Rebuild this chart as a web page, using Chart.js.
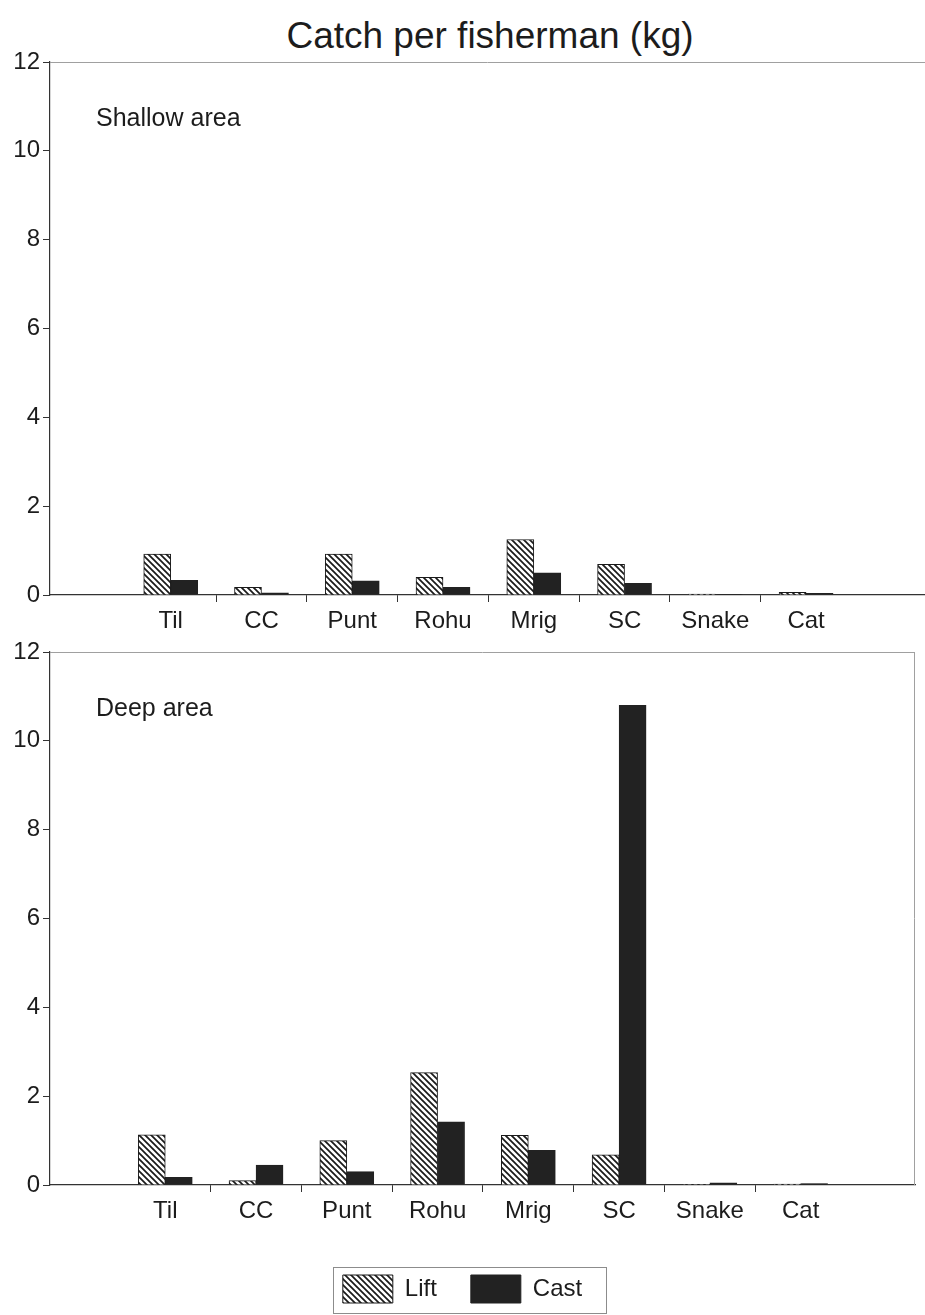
<!DOCTYPE html>
<html>
<head>
<meta charset="utf-8">
<script src="https://cdn.jsdelivr.net/npm/chart.js@4.4.0/dist/chart.umd.min.js"></script>
<style>
  html, body { margin: 0; padding: 0; background: #fff; }
  body { width: 925px; height: 1315px; position: relative; overflow: hidden;
         font-family: "Liberation Sans", Arial, sans-serif; color: #1c1c1c; }
  #title { position: absolute; left: 0; width: 980px; top: 14px; text-align: center;
           font-size: 37px; line-height: 44px; }
  .panel { position: absolute; left: 0; width: 925px; }
  #shallowWrap { top: 40px; height: 600px; }
  #deepWrap { top: 630px; height: 685px; }
</style>
</head>
<body>
<div id="title">Catch per fisherman (kg)</div>
<div class="panel" id="shallowWrap"><canvas id="shallow" width="925" height="600"></canvas></div>
<div class="panel" id="deepWrap"><canvas id="deep" width="925" height="685"></canvas></div>
<script>
// Species groups and catch per fisherman (kg) for each gear type
const categories = ['Til', 'CC', 'Punt', 'Rohu', 'Mrig', 'SC', 'Snake', 'Cat'];
const shallowLift = [0.92, 0.17, 0.92, 0.40, 1.25, 0.69, 0.02, 0.06];
const shallowCast = [0.33, 0.05, 0.32, 0.17, 0.50, 0.26, 0.01, 0.04];
const deepLift    = [1.13, 0.10, 1.00, 2.53, 1.12, 0.68, 0.01, 0.02];
const deepCast    = [0.17, 0.45, 0.30, 1.42, 0.78, 10.8, 0.05, 0.03];
const yTickValues = [0, 2, 4, 6, 8, 10, 12];
const seriesNames = ['Lift', 'Cast'];

const FONT = '"Liberation Sans", Arial, sans-serif';
const INK = '#1c1c1c';

// Diagonal hatching used for the Lift bars
function hatch(ctx) {
  const s = 6;
  const c = document.createElement('canvas');
  c.width = c.height = s;
  const g = c.getContext('2d');
  g.fillStyle = '#fff';
  g.fillRect(0, 0, s, s);
  g.strokeStyle = '#1a1a1a';
  g.lineWidth = 1.7;
  g.beginPath();
  g.moveTo(-1, -1); g.lineTo(s + 1, s + 1);
  g.moveTo(-1, s - 1); g.lineTo(1, s + 1);
  g.moveTo(s - 1, -1); g.lineTo(s + 1, 1);
  g.stroke();
  return ctx.createPattern(c, 'repeat');
}

// Light frame line along the top (and optionally right) of the plot area
const framePlugin = {
  id: 'frame',
  beforeDatasetsDraw(chart, args, opts) {
    const { ctx, chartArea: a } = chart;
    ctx.save();
    ctx.strokeStyle = '#a0a0a0';
    ctx.lineWidth = 1;
    ctx.beginPath();
    ctx.moveTo(a.left, a.top + 0.5);
    ctx.lineTo(a.right, a.top + 0.5);
    if (opts.right) {
      ctx.moveTo(a.right - 0.5, a.top);
      ctx.lineTo(a.right - 0.5, a.bottom);
    }
    ctx.stroke();
    ctx.restore();
  }
};

// Panel caption in the upper-left corner of the plot area
const panelLabelPlugin = {
  id: 'panelLabel',
  afterDraw(chart, args, opts) {
    if (!opts.text) return;
    const { ctx, chartArea: a } = chart;
    ctx.save();
    ctx.font = '25px ' + FONT;
    ctx.fillStyle = INK;
    ctx.textBaseline = 'alphabetic';
    ctx.textAlign = 'left';
    ctx.fillText(opts.text, a.left + 46, a.top + 64);
    ctx.restore();
  }
};

// Thin box drawn around the legend entries
const legendBoxPlugin = {
  id: 'legendBox',
  afterDraw(chart) {
    const lg = chart.legend;
    if (!lg || !lg.options.display || !lg.legendHitBoxes || !lg.legendHitBoxes.length) return;
    const hb = lg.legendHitBoxes;
    const first = hb[0], last = hb[hb.length - 1];
    const l = first.left - 10;
    const r = last.left + last.width + 24;
    const t = first.top - 8;
    const b = first.top + first.height + 10;
    const { ctx } = chart;
    ctx.save();
    ctx.strokeStyle = '#8c8c8c';
    ctx.lineWidth = 1;
    ctx.strokeRect(Math.round(l) + 0.5, Math.round(t) + 0.5, Math.round(r - l), Math.round(b - t));
    ctx.restore();
  }
};

function makeChart(id, lift, cast, cfg) {
  const canvas = document.getElementById(id);
  const ctx = canvas.getContext('2d');
  return new Chart(ctx, {
    type: 'bar',
    data: {
      labels: categories.map((_, i) => i),
      datasets: [
        { label: seriesNames[0], data: lift, backgroundColor: hatch(ctx),
          borderColor: '#1a1a1a', borderWidth: 1 },
        { label: seriesNames[1], data: cast, backgroundColor: '#222222',
          borderColor: '#222222', borderWidth: 1 }
      ]
    },
    plugins: [framePlugin, panelLabelPlugin, legendBoxPlugin],
    options: {
      responsive: false,
      animation: false,
      devicePixelRatio: 1,
      layout: { padding: cfg.padding },
      datasets: { bar: { barThickness: 27 } },
      scales: {
        x: {
          type: 'linear',
          bounds: 'data',
          offset: false,
          min: cfg.xMin,
          max: cfg.xMax,
          afterBuildTicks(scale) {
            const t = [];
            categories.forEach((_, i) => {
              t.push({ value: i });
              if (i < categories.length - 1) t.push({ value: i + 0.5 });
            });
            scale.ticks = t;
          },
          afterFit(scale) { scale.height = cfg.xHeight; },
          ticks: {
            autoSkip: false,
            maxRotation: 0,
            minRotation: 0,
            padding: 5,
            color: INK,
            font: { family: FONT, size: 24 },
            callback: (v) => Number.isInteger(v) ? categories[v] : ''
          },
          grid: {
            offset: false,
            drawOnChartArea: false,
            drawTicks: true,
            tickLength: 7,
            tickWidth: 1,
            tickColor: (c) => (c.tick && !Number.isInteger(c.tick.value)) ? '#333' : 'rgba(0,0,0,0)'
          },
          border: { color: '#333', width: 1.2 }
        },
        y: {
          min: 0,
          max: 12,
          afterBuildTicks(scale) { scale.ticks = yTickValues.map(v => ({ value: v })); },
          afterFit(scale) { scale.width = cfg.yWidth; },
          ticks: { padding: 3, color: INK, font: { family: FONT, size: 24 } },
          grid: { drawOnChartArea: false, tickLength: 7, color: '#333', tickWidth: 1 },
          border: { color: '#333', width: 1.2 }
        }
      },
      plugins: {
        tooltip: { enabled: false },
        title: { display: false },
        frame: { right: cfg.rightFrame },
        panelLabel: { text: cfg.caption },
        legend: {
          display: cfg.legend,
          position: 'bottom',
          labels: {
            boxWidth: 50,
            boxHeight: 28,
            padding: 34,
            color: INK,
            font: { family: FONT, size: 24 }
          }
        }
      }
    }
  });
}

makeChart('shallow', shallowLift, shallowCast, {
  padding: { top: 22, right: 0, bottom: 0, left: 0 },
  xMin: -1.33, xMax: 8.31, xHeight: 45, yWidth: 50,
  caption: 'Shallow area', rightFrame: false, legend: false
});

makeChart('deep', deepLift, deepCast, {
  padding: { top: 22, right: 10, bottom: 2, left: 10 },
  xMin: -1.27, xMax: 8.26, xHeight: 56, yWidth: 40,
  caption: 'Deep area', rightFrame: true, legend: true
});
</script>
</body>
</html>
